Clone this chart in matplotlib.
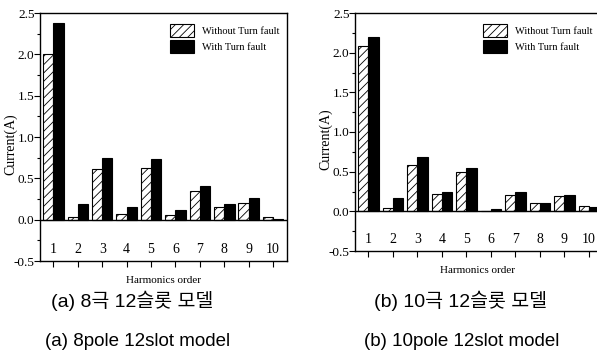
import matplotlib
matplotlib.use('Agg')
import matplotlib.pyplot as plt
from matplotlib.ticker import MultipleLocator

# --- Data ---
orders = [1, 2, 3, 4, 5, 6, 7, 8, 9, 10]

# (a) 8 pole 12 slot
without_a = [2.01, 0.03, 0.61, 0.07, 0.62, 0.06, 0.35, 0.15, 0.20, 0.03]
with_a = [2.38, 0.19, 0.74, 0.15, 0.73, 0.12, 0.41, 0.19, 0.26, 0.01]

# (b) 10 pole 12 slot
without_b = [2.09, 0.04, 0.59, 0.22, 0.49, 0.01, 0.20, 0.10, 0.19, 0.07]
with_b = [2.20, 0.17, 0.69, 0.24, 0.54, 0.03, 0.25, 0.10, 0.21, 0.06]

ytick_vals = [-0.5, 0.0, 0.5, 1.0, 1.5, 2.0, 2.5]
legend_labels = ['Without Turn fault', 'With Turn fault']
captions_kr = ['(a) 8극 12슬롯 모델', '(b) 10극 12슬롯 모델']
captions_en = ['(a) 8pole 12slot model', '(b) 10pole 12slot model']

SERIF = 'Liberation Serif'
plt.rcParams['hatch.linewidth'] = 0.6

fig = plt.figure(figsize=(5.97, 3.63), dpi=100)
W, H = 597.0, 363.0


def px_axes(x0, y0, x1, y1):
    # pixel box -> figure fraction
    return fig.add_axes([x0 / W, 1 - y1 / H, (x1 - x0) / W, (y1 - y0) / H])


def draw_panel(ax, without, withf, xmax, tick_pad):
    w = 0.42
    x = orders
    ax.bar([i - w / 2 for i in x], without, width=w, color='white',
           edgecolor='black', linewidth=0.8, hatch='////', label=legend_labels[0])
    ax.bar([i + w / 2 for i in x], withf, width=w, color='black',
           edgecolor='black', linewidth=0.8, label=legend_labels[1])
    ax.axhline(0, color='black', linewidth=1.0)
    ax.set_xlim(0.45, xmax)
    ax.set_ylim(-0.5, 2.5)
    ax.set_yticks(ytick_vals)
    ax.set_yticklabels([f'{v:.1f}' for v in ytick_vals], fontfamily=SERIF, fontsize=9.5)
    ax.yaxis.set_minor_locator(MultipleLocator(0.25))
    ax.set_xticks(orders)
    ax.set_xticklabels([str(o) for o in orders], fontfamily=SERIF, fontsize=10)
    ax.tick_params(axis='y', which='major', direction='out', length=4, width=0.8, pad=0)
    ax.tick_params(axis='y', which='minor', direction='out', length=2, width=0.8)
    ax.tick_params(axis='x', which='major', direction='out', length=4, width=0.8, pad=tick_pad)
    for s in ax.spines.values():
        s.set_linewidth(1.0)
    ax.set_ylabel('Current(A)', fontfamily=SERIF, fontsize=10)
    ax.yaxis.set_label_coords(-0.092, 0.47)
    ax.set_xlabel('Harmonics order', fontfamily=SERIF, fontsize=8, labelpad=7)
    ax.legend(loc='upper right', bbox_to_anchor=(1.0, 0.985), frameon=False,
              prop={'family': SERIF, 'size': 7.5}, handlelength=2.3,
              handleheight=1.5, handletextpad=0.8, labelspacing=0.35,
              borderaxespad=0.3)


ax1 = px_axes(40, 13, 287, 261)
draw_panel(ax1, without_a, with_a, 10.57, -17)

ax2 = px_axes(355, 13, 600, 251)
draw_panel(ax2, without_b, with_b, 10.45, -17)

cap_font = ['Liberation Sans', 'Noto Sans CJK KR']
fig.text(132 / W, 1 - 301 / H, captions_kr[0], ha='center', va='center',
         fontfamily=cap_font, fontsize=14)
fig.text(460 / W, 1 - 301 / H, captions_kr[1], ha='center', va='center',
         fontfamily=cap_font, fontsize=14)
fig.text(138 / W, 1 - 341 / H, captions_en[0], ha='center', va='center',
         fontfamily=cap_font, fontsize=13.5)
fig.text(462 / W, 1 - 341 / H, captions_en[1], ha='center', va='center',
         fontfamily=cap_font, fontsize=13.5)

fig.savefig('out.png', dpi=100)
